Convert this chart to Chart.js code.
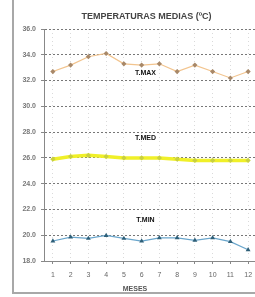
<!DOCTYPE html>
<html>
<head>
<meta charset="utf-8">
<script src="https://cdn.jsdelivr.net/npm/chart.js@4"></script>
<style>
  html, body { margin: 0; padding: 0; background: #fff; overflow: hidden; }
  #marco { position: absolute; left: 12px; top: -2px; width: 300px; height: 294px;
           border-left: 2px solid #a8a8a8; border-bottom: 2px solid #a8a8a8; }
  #caja { position: absolute; left: 0; top: 0; width: 262px; height: 297px; }
</style>
</head>
<body>
<div id="marco"></div>
<div id="caja"><canvas id="grafTemp"></canvas></div>
<script>
// datos
const meses = ['1','2','3','4','5','6','7','8','9','10','11','12'];
const tMax = [32.7, 33.2, 33.85, 34.1, 33.3, 33.2, 33.3, 32.7, 33.2, 32.7, 32.2, 32.7];
const tMed = [25.9, 26.1, 26.2, 26.1, 26.0, 26.0, 26.0, 25.9, 25.8, 25.8, 25.8, 25.8];
const tMin = [19.55, 19.85, 19.75, 19.98, 19.75, 19.55, 19.8, 19.8, 19.6, 19.8, 19.5, 18.87];
const etiquetasSerie = [
  { texto: 'T.MAX', valor: 32.55 },
  { texto: 'T.MED', valor: 27.5 },
  { texto: 'T.MIN', valor: 21.2 }
];
const titulo = 'TEMPERATURAS MEDIAS (ºC)';
const tituloX = 'MESES';

// brillo alrededor de las lineas
const brillo = {
  id: 'brillo',
  beforeDatasetDraw(chart, args) {
    const ctx = chart.ctx;
    ctx.save();
    ctx.shadowColor = args.meta.dataset.options.glow || 'transparent';
    ctx.shadowBlur = 8;
  },
  afterDatasetDraw(chart) {
    chart.ctx.restore();
  }
};

const textos = {
  id: 'textos',
  afterDraw(chart) {
    const ctx = chart.ctx;
    const area = chart.chartArea;
    const y = chart.scales.y;
    ctx.save();
    ctx.textAlign = 'center';
    ctx.textBaseline = 'middle';
    ctx.fillStyle = '#444';
    ctx.font = 'bold 9px "Liberation Sans", Arial';
    ctx.fillText(titulo, (area.left + area.right) / 2 - 4, 17);
    ctx.font = 'bold 7px "Liberation Sans", Arial';
    ctx.fillStyle = '#111';
    etiquetasSerie.forEach(e => {
      ctx.fillText(e.texto, (area.left + area.right) / 2 - 5, y.getPixelForValue(e.valor));
    });
    ctx.fillStyle = '#555';
    ctx.fillText(tituloX, 135, 289);
    ctx.restore();
  }
};

const ctx = document.getElementById('grafTemp').getContext('2d');
const chart = new Chart(ctx, {
  type: 'line',
  data: {
    labels: meses,
    datasets: [
      {
        label: 'T.MAX', data: tMax,
        borderColor: '#f2c48e', borderWidth: 1.2, glow: 'rgba(250,200,130,0.9)',
        pointStyle: 'rectRot', pointRadius: 2.6,
        pointBackgroundColor: '#a88868', pointBorderColor: '#a88868', pointBorderWidth: 0
      },
      {
        label: 'T.MED', data: tMed,
        borderColor: '#f0f028', borderWidth: 3.5, glow: 'rgba(240,250,60,1)',
        pointStyle: 'rectRot', pointRadius: 2.6,
        pointBackgroundColor: '#c8d040', pointBorderColor: '#c8d040', pointBorderWidth: 0
      },
      {
        label: 'T.MIN', data: tMin,
        borderColor: '#6aa6cc', borderWidth: 1.2, glow: 'rgba(150,220,245,0.9)',
        pointStyle: 'triangle', pointRadius: 2.8,
        pointBackgroundColor: '#2e5f78', pointBorderColor: '#2e5f78', pointBorderWidth: 0
      }
    ]
  },
  options: {
    responsive: true,
    maintainAspectRatio: false,
    animation: false,
    devicePixelRatio: 1,
    layout: { padding: { left: 0, right: 5, top: 29, bottom: 0 } },
    plugins: { legend: { display: false }, tooltip: { enabled: false }, title: { display: false } },
    scales: {
      x: {
        offset: true,
        afterFit: s => { s.height = 36; },
        border: { color: '#888', width: 1, dash: [1, 3] },
        grid: { offset: false, color: 'rgba(150,150,150,0.35)', drawTicks: true, tickLength: 3, tickColor: '#888' },
        ticks: { color: '#666', font: { size: 7, family: '"Liberation Sans", Arial' }, padding: 7, maxRotation: 0 }
      },
      y: {
        min: 18, max: 36,
        afterFit: s => { s.width = 44; },
        border: { color: '#888', width: 1, dash: [2, 2] },
        grid: { color: '#777', tickLength: 3, tickColor: '#888' },
        ticks: {
          stepSize: 2, color: '#777', padding: 5,
          font: { size: 7, weight: 'bold', family: '"Liberation Sans", Arial' },
          callback: v => v.toFixed(1)
        }
      }
    }
  },
  plugins: [brillo, textos]
});
</script>
</body>
</html>
